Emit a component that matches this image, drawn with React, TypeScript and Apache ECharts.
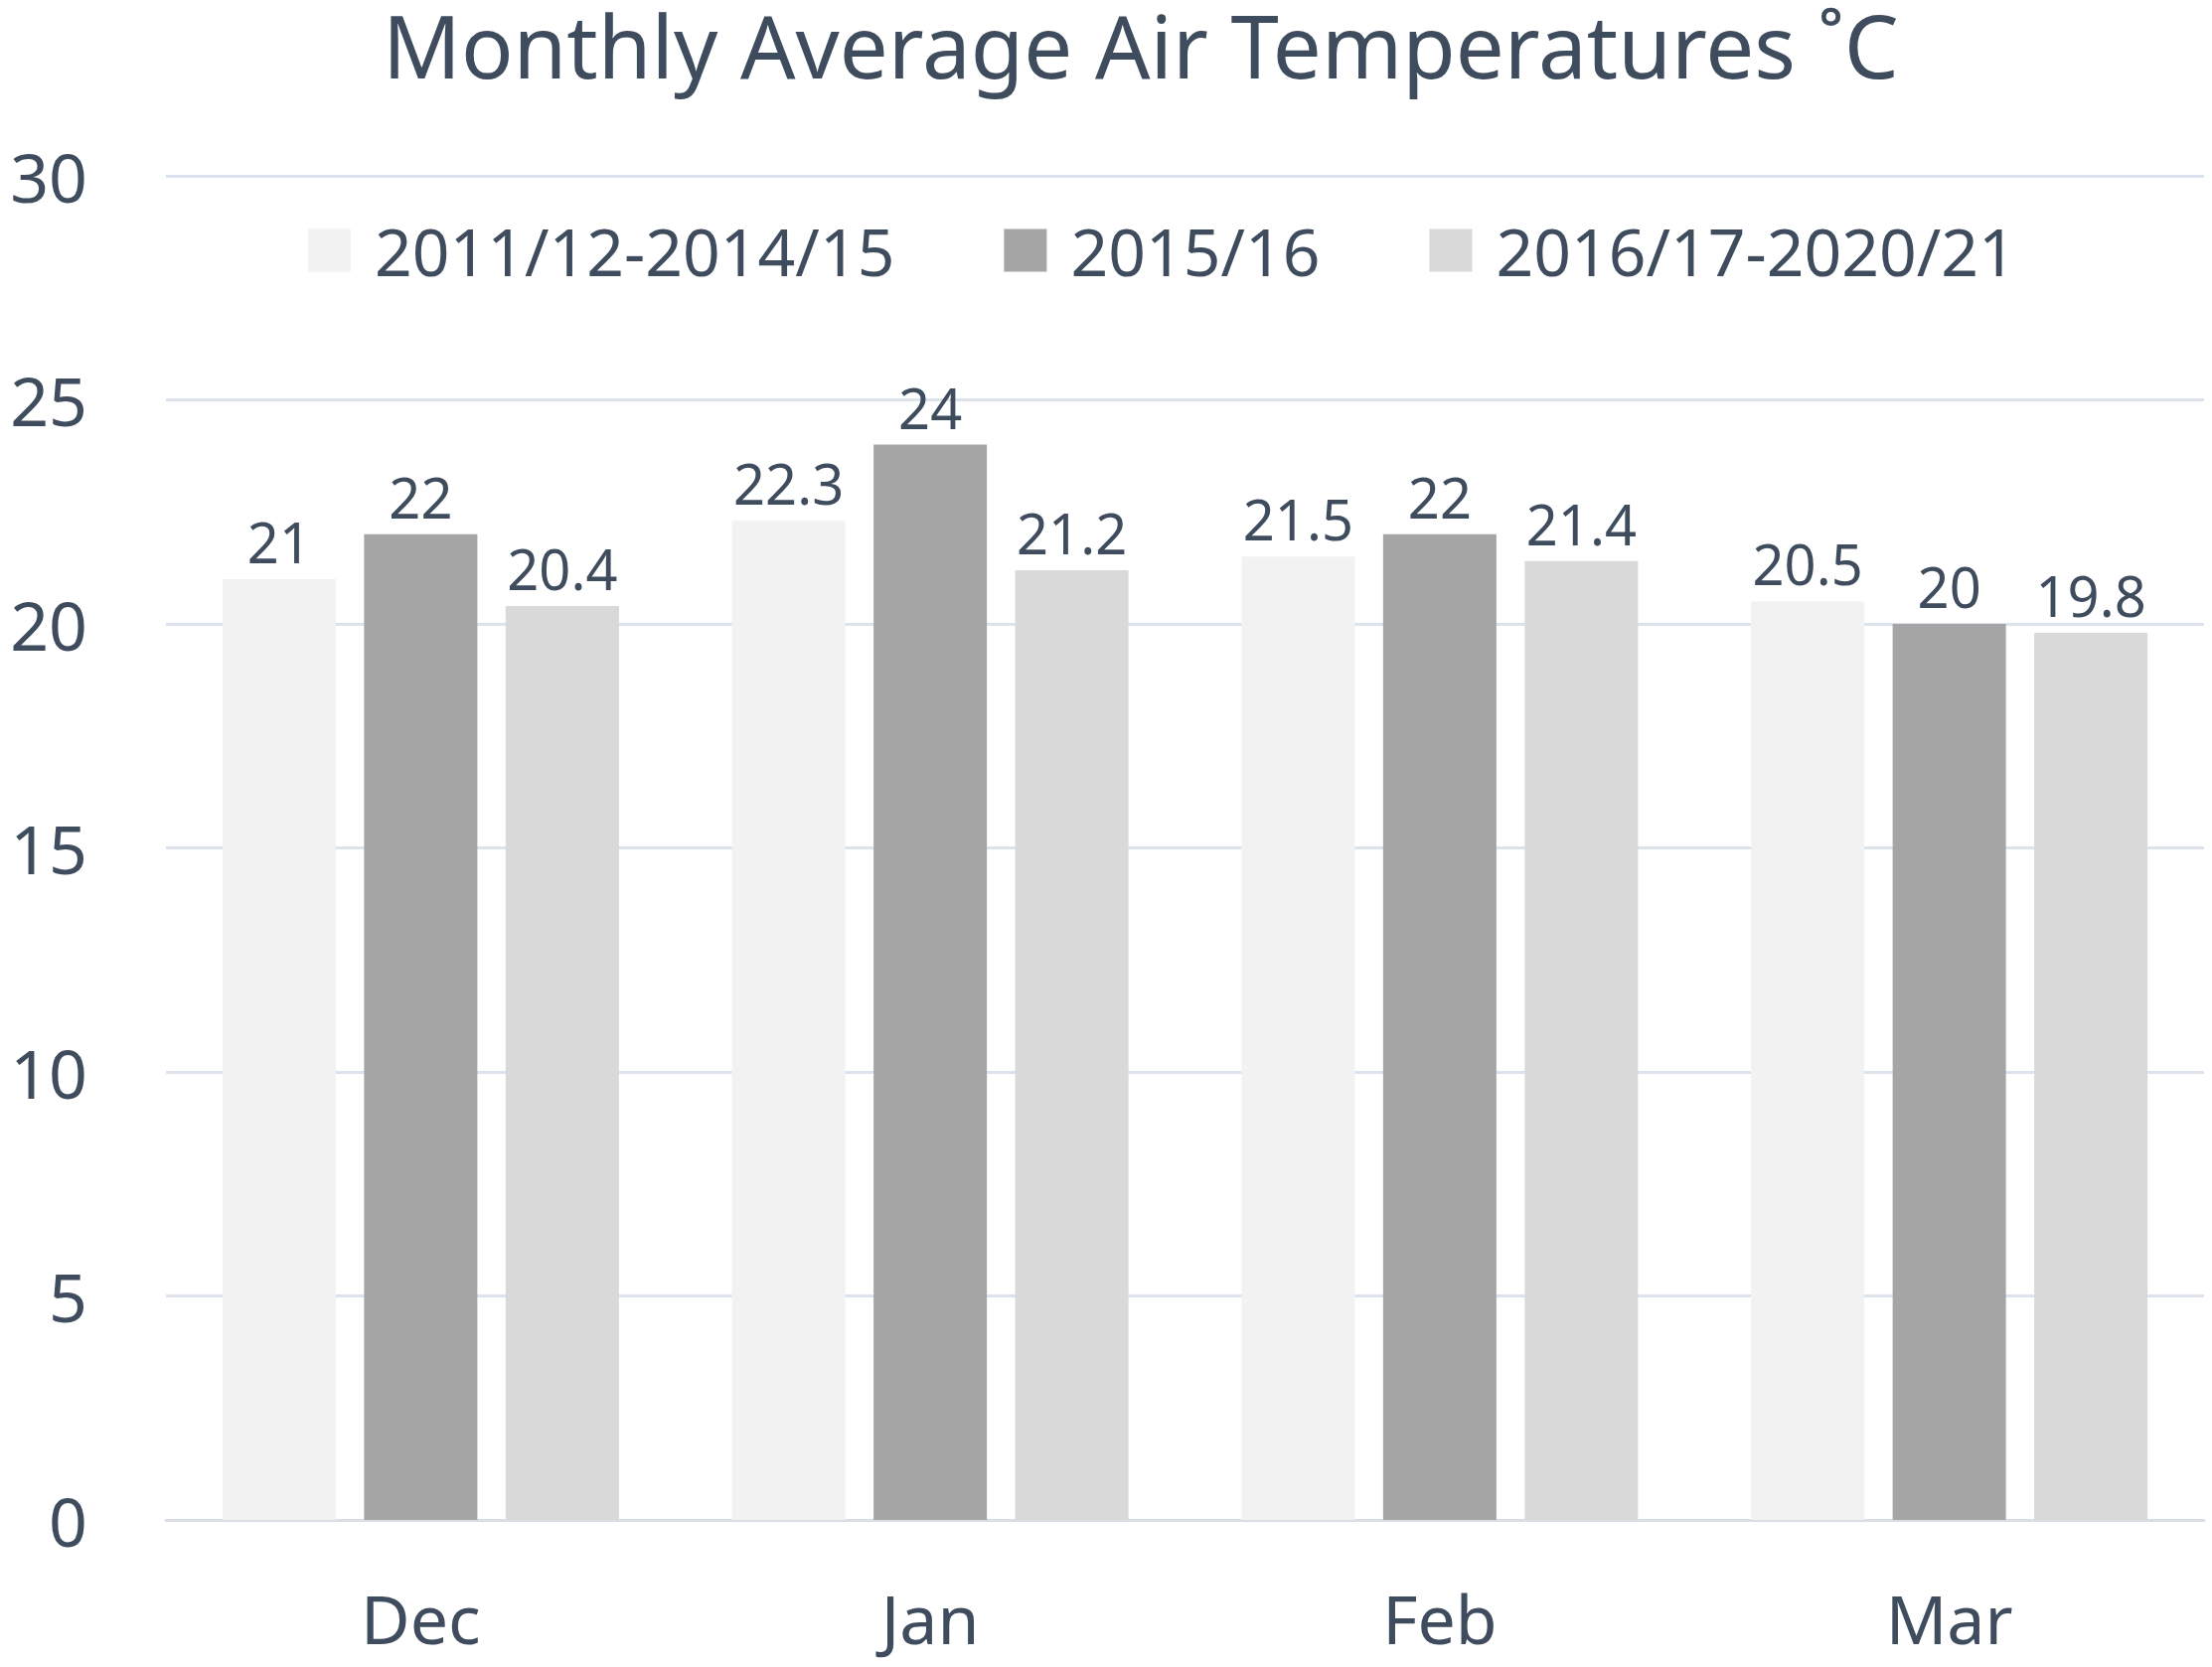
import React, { useEffect, useRef } from "react";
import * as echarts from "echarts";

const categories = ["Dec", "Jan", "Feb", "Mar"];
const seriesNames = ["2011/12-2014/15", "2015/16", "2016/17-2020/21"];
const s1 = [21, 22.3, 21.5, 20.5];
const s2 = [22, 24, 22, 20];
const s3 = [20.4, 21.2, 21.4, 19.8];
const colors = ["#F2F2F2", "#A5A5A5", "#D9D9D9"];
const yTicks = { min: 0, max: 30, interval: 5 };
const titleText = "Monthly Average Air Temperatures \u02DAC";

const FONT = "'Noto Sans', 'Open Sans', sans-serif";
const TEXT = "#3E4C5E";

export default function App() {
  const ref = useRef<HTMLDivElement>(null);
  useEffect(() => {
    document.body.style.margin = "0";
    const chart = echarts.init(ref.current!, undefined, { renderer: "svg" });
    const values = [s1, s2, s3];
    chart.setOption({
      animation: false,
      backgroundColor: "#ffffff",
      title: {
        text: titleText,
        left: 380,
        top: -4,
        textStyle: { fontFamily: FONT, fontSize: 87, fontWeight: "normal", color: TEXT },
      },
      legend: {
        left: 305,
        top: 214,
        itemWidth: 43,
        itemHeight: 43,
        itemGap: 110,
        icon: "rect",
        textStyle: { fontFamily: FONT, fontSize: 66, color: TEXT, padding: [0, 0, 0, 19] },
        data: seriesNames,
      },
      grid: { left: 167, right: 8, top: 177, bottom: 148, containLabel: false },
      xAxis: {
        type: "category",
        data: categories,
        axisLine: { show: true, lineStyle: { color: "#D9DEE6", width: 3 } },
        axisTick: { show: false },
        axisLabel: { fontFamily: FONT, fontSize: 68, lineHeight: 60, color: TEXT, margin: 68 },
      },
      yAxis: {
        type: "value",
        min: yTicks.min,
        max: yTicks.max,
        interval: yTicks.interval,
        axisLine: { show: false },
        axisTick: { show: false },
        axisLabel: { fontFamily: FONT, fontSize: 68, color: TEXT, margin: 79 },
        splitLine: { lineStyle: { color: "#DDE3EC", width: 3 } },
      },
      series: seriesNames.map((name, i) => ({
        name,
        type: "bar",
        data: values[i],
        barWidth: 114,
        barGap: "25%",
        itemStyle: { color: colors[i] },
        label: {
          show: true,
          position: "top",
          distance: 10,
          fontFamily: FONT,
          fontSize: 56,
          color: TEXT,
        },
      })),
    });
    return () => chart.dispose();
  }, []);
  return <div ref={ref} style={{ width: 2226, height: 1678 }} />;
}
